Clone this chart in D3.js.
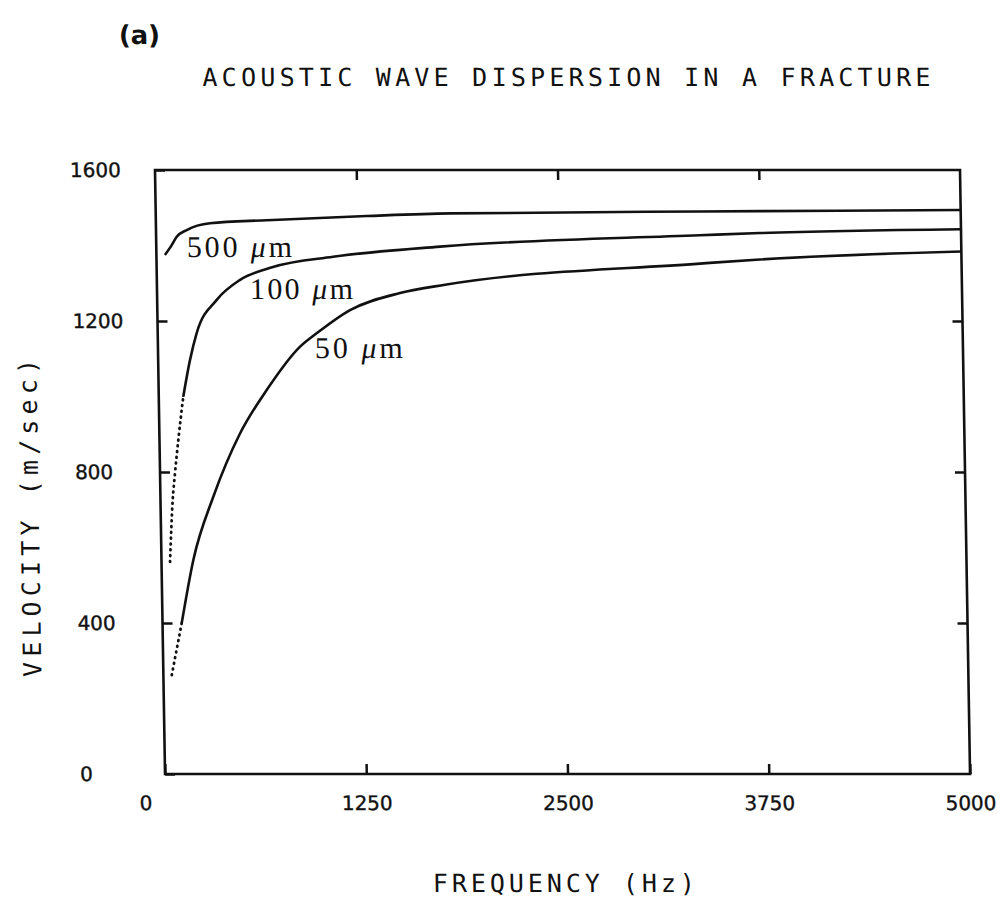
<!DOCTYPE html>
<html>
<head>
<meta charset="utf-8">
<script src="https://cdn.jsdelivr.net/npm/d3@7"></script>
<style>
  body { margin: 0; background: #fff; }
  .axis text { font-family: "DejaVu Sans", sans-serif; font-size: 20px; fill: #111; stroke: #111; stroke-width: 0.4; }
  .axis path { display: none; }
  .axis line { stroke: #111; stroke-width: 2.5; }
</style>
</head>
<body>
<svg id="chart"></svg>
<script>
// values (frequency in Hz, velocity in m/sec)
const freq500 = [53, 96, 128, 191, 336, 689, 1310, 1828, 3381, 3753, 5000];
const vel500 = [1375, 1401, 1423, 1441, 1459, 1467, 1478, 1485, 1490, 1491, 1494];

const freq100 = [53, 76, 93, 117, 152, 198, 242, 370, 517, 723, 1097, 1762, 3377, 3751, 5000];
const vel100 = [562, 726, 797, 885, 999, 1097, 1168, 1256, 1309, 1343, 1370, 1397, 1427, 1433, 1443];

const freq50 = [52, 119, 198, 329, 501, 671, 883, 989, 1197, 1509, 1790, 3375, 3749, 5000];
const vel50 = [262, 399, 567, 735, 902, 1017, 1132, 1168, 1229, 1274, 1296, 1352, 1363, 1384];

// part of each curve drawn dotted (below this frequency)
const dotted500 = 0;
const dotted100 = 152;
const dotted50 = 119;

// curve labels: text, anchor frequency, anchor velocity
const labelNames = ["500", "100", "50"];
const labelFreq = [190, 577, 974];
const labelVel = [1369, 1258, 1102];
const labelWidth = [105, 103, 88];

const xTicks = [0, 1250, 2500, 3750, 5000];
const yTicks = [0, 400, 800, 1200, 1600];

const W = 1002, H = 904;
const margin = { top: 170, left: 155, right: 42, bottom: 130 };
const width = W - margin.left - margin.right;
const height = H - margin.top - margin.bottom;

// the scanned figure leans a little to the right going down
const shear = 0.0166;

const svg = d3.select("#chart").attr("width", W).attr("height", H);

const root = svg.append("g")
  .attr("transform", `matrix(1,0,${shear},1,${-shear * margin.top},0)`);

const xScale = d3.scaleLinear().domain([0, 5000]).range([0, width]);
const yScale = d3.scaleLinear().domain([0, 1600]).range([height, 0]);

const chart = root.append("g")
  .attr("transform", `translate(${margin.left},${margin.top})`);

// axes with inward ticks
chart.append("g")
  .attr("class", "axis x-axis")
  .attr("transform", `translate(0,${height})`)
  .call(d3.axisBottom(xScale).tickValues(xTicks).tickFormat(d3.format("d"))
    .tickSize(-10).tickSizeOuter(0).tickPadding(22))
  .call(g => g.selectAll(".tick text")
    .attr("dx", d => d === 0 ? -20 : 0));

chart.append("g")
  .attr("class", "axis")
  .call(d3.axisTop(xScale).tickValues(xTicks.slice(1, -1)).tickFormat("")
    .tickSize(-10).tickSizeOuter(0));

chart.append("g")
  .attr("class", "axis y-axis")
  .call(d3.axisLeft(yScale).tickValues(yTicks).tickFormat(d3.format("d"))
    .tickSize(-10).tickSizeOuter(0))
  .call(g => g.selectAll(".tick text")
    .attr("x", -85)
    .attr("text-anchor", "start"));

chart.append("g")
  .attr("class", "axis")
  .attr("transform", `translate(${width},0)`)
  .call(d3.axisRight(yScale).tickValues(yTicks.slice(1, -1)).tickFormat("")
    .tickSize(-10).tickSizeOuter(0));

chart.append("rect")
  .attr("width", width)
  .attr("height", height)
  .attr("fill", "none")
  .attr("stroke", "#111")
  .attr("stroke-width", 2.6);

// curves
const line = d3.line()
  .x(d => xScale(d[0]))
  .y(d => yScale(d[1]))
  .curve(d3.curveMonotoneX);

const series = [
  { f: freq500, v: vel500, dot: dotted500 },
  { f: freq100, v: vel100, dot: dotted100 },
  { f: freq50, v: vel50, dot: dotted50 },
];

series.forEach(s => {
  const pts = s.f.map((f, i) => [f, s.v[i]]);
  const dotPts = pts.filter(p => p[0] <= s.dot);
  const solidPts = pts.filter(p => p[0] >= s.dot);
  if (dotPts.length > 1) {
    chart.append("path")
      .attr("d", line(dotPts))
      .attr("fill", "none")
      .attr("stroke", "#111")
      .attr("stroke-width", 2.8)
      .attr("stroke-linecap", "round")
      .attr("stroke-dasharray", "0.8,5");
  }
  chart.append("path")
    .attr("d", line(solidPts))
    .attr("fill", "none")
    .attr("stroke", "#111")
    .attr("stroke-width", 2.6)
    .attr("stroke-linejoin", "round");
});

// curve labels
labelNames.forEach((name, i) => {
  const t = chart.append("text")
    .attr("x", xScale(labelFreq[i]))
    .attr("y", yScale(labelVel[i]))
    .attr("textLength", labelWidth[i])
    .attr("lengthAdjust", "spacing")
    .attr("font-family", "'Liberation Serif', serif")
    .attr("font-size", 30)
    .attr("fill", "#111");
  t.append("tspan").text(name + " ");
  t.append("tspan").attr("font-style", "italic").text("\u03bc");
  t.append("tspan").text("m");
});

// titles
root.append("text")
  .attr("x", 121)
  .attr("y", 44)
  .attr("font-family", "'DejaVu Sans', sans-serif")
  .attr("font-weight", "bold")
  .attr("font-size", 26)
  .attr("fill", "#111")
  .text("(a)");

root.append("text")
  .attr("x", 204)
  .attr("y", 86)
  .attr("textLength", 728)
  .attr("lengthAdjust", "spacing")
  .attr("font-family", "'DejaVu Sans Mono', monospace")
  .attr("font-size", 25)
  .attr("fill", "#111")
  .text("ACOUSTIC WAVE DISPERSION IN A FRACTURE");

root.append("text")
  .attr("x", 421)
  .attr("y", 892)
  .attr("textLength", 262)
  .attr("lengthAdjust", "spacing")
  .attr("font-family", "'DejaVu Sans Mono', monospace")
  .attr("font-size", 25)
  .attr("fill", "#111")
  .text("FREQUENCY (Hz)");

root.append("text")
  .attr("transform", "translate(33,518) rotate(-90)")
  .attr("text-anchor", "middle")
  .attr("textLength", 318)
  .attr("lengthAdjust", "spacing")
  .attr("font-family", "'DejaVu Sans Mono', monospace")
  .attr("font-size", 25)
  .attr("fill", "#111")
  .text("VELOCITY (m/sec)");
</script>
</body>
</html>
